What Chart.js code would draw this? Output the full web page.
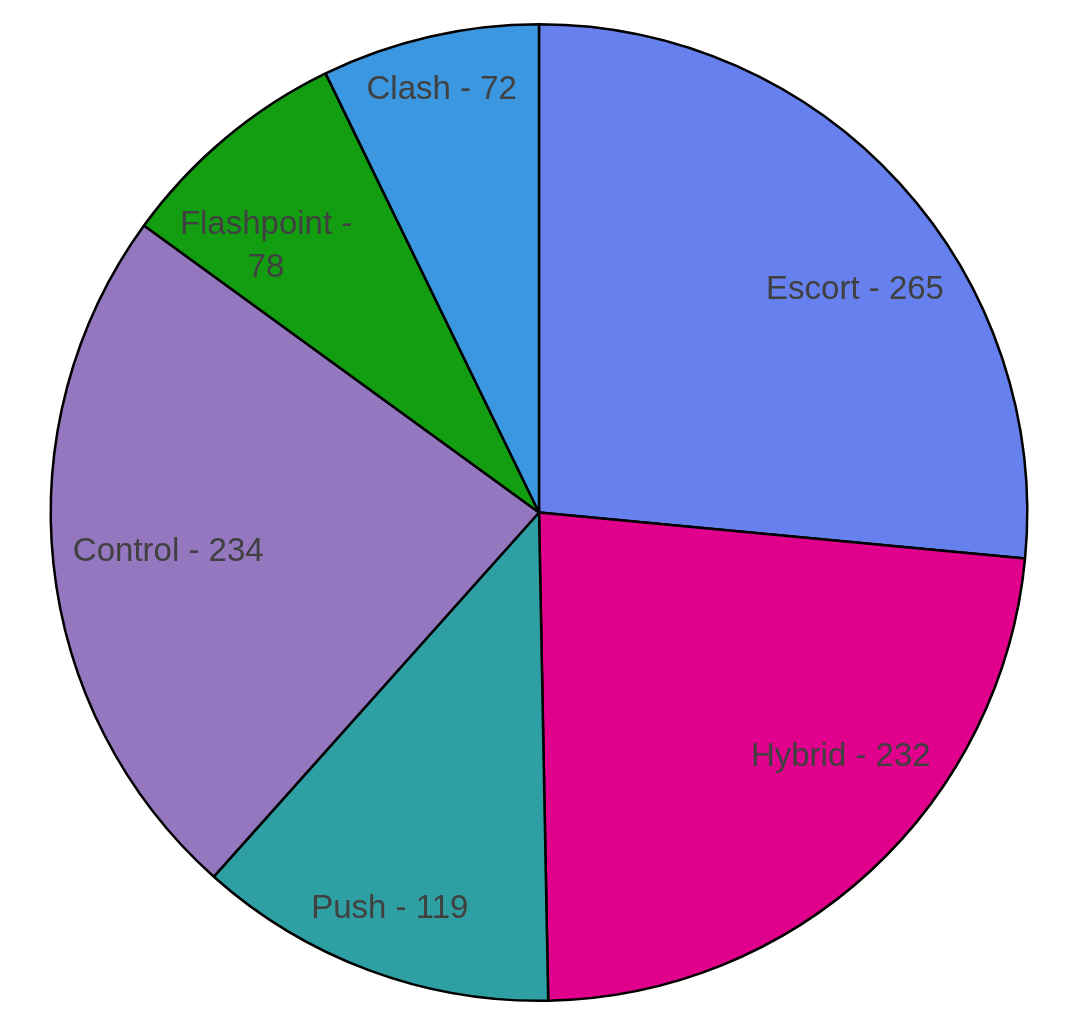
<!DOCTYPE html>
<html>
<head>
<meta charset="utf-8">
<script src="https://cdn.jsdelivr.net/npm/chart.js@4.4.0/dist/chart.umd.min.js"></script>
<style>
    html, body { margin: 0; padding: 0; background: #fff; }
    #wrap { width: 1080px; height: 1027px; }
</style>
</head>
<body>
<div id="wrap"><canvas id="myChart" width="1080" height="1027"></canvas></div>
<script>
// Data
var categories = ["Escort", "Hybrid", "Push", "Control", "Flashpoint", "Clash"];
var values = [265, 232, 119, 234, 78, 72];
var colors = ["#6680EE", "#E0008C", "#2EA0A4", "#9477BF", "#139E12", "#3B97DF"];

var labelFont = "33px 'Liberation Sans', Arial, sans-serif";
var lineHeight = 43;

// word wrap a label so it fits roughly in the slice
function wrapText(ctx, text, maxWidth) {
    if (ctx.measureText(text).width <= maxWidth) return [text];
    var words = text.split(" ");
    var lines = [];
    var cur = "";
    words.forEach(function (w) {
        var test = cur ? cur + " " + w : w;
        if (cur && ctx.measureText(test).width > maxWidth) {
            lines.push(cur);
            cur = w;
        } else {
            cur = test;
        }
    });
    if (cur) lines.push(cur);
    return lines;
}

// distance t along u so that |t*u + v| == R
function solveT(ux, uy, vx, vy, R) {
    var b = ux * vx + uy * vy;
    var c = vx * vx + vy * vy - R * R;
    return -b + Math.sqrt(b * b - c);
}

// labels drawn near the outer end of each slice (roughly Excel "best fit")
var sliceLabels = {
    id: "sliceLabels",
    afterDatasetsDraw: function (chart) {
        var ctx = chart.ctx;
        var meta = chart.getDatasetMeta(0);
        ctx.save();
        ctx.font = labelFont;
        ctx.fillStyle = "#404040";
        ctx.textAlign = "center";
        ctx.textBaseline = "middle";
        meta.data.forEach(function (arc, i) {
            var p = arc.getProps(["x", "y", "startAngle", "endAngle", "outerRadius"], true);
            var mid = (p.startAngle + p.endAngle) / 2;
            var ux = Math.cos(mid), uy = Math.sin(mid);
            var sx = ux < 0 ? -1 : 1, sy = uy < 0 ? -1 : 1;
            var text = categories[i] + " - " + values[i];
            var maxW = (p.endAngle - p.startAngle) * p.outerRadius * 0.8;
            var lines = wrapText(ctx, text, maxW);
            var w = Math.max.apply(null, lines.map(function (l) { return ctx.measureText(l).width; }));
            var h = 28 + (lines.length - 1) * lineHeight;
            var Rf = p.outerRadius - 19;

            // box centred on the mid ray, far corner on Rf
            var tc = solveT(ux, uy, sx * w / 2, sy * h / 2, Rf);
            var ax = ux * tc, ay = uy * tc;
            // near corner on the mid ray, far corner on Rf
            var tn = solveT(ux, uy, sx * w, sy * h, Rf);
            var bx = ux * tn + sx * w / 2, by = uy * tn + sy * h / 2;

            var k = Math.pow(Math.abs(Math.sin(2 * mid)), 8);
            var cx = p.x + ax + (bx - ax) * k;
            var cy = p.y + ay + (by - ay) * k;
            lines.forEach(function (l, n) {
                ctx.fillText(l, cx, cy - (lines.length - 1) * lineHeight / 2 + n * lineHeight);
            });
        });
        ctx.restore();
    }
};

var ctx = document.getElementById("myChart").getContext("2d");
var myChart = new Chart(ctx, {
    type: "pie",
    data: {
        labels: categories,
        datasets: [{
            data: values,
            backgroundColor: colors,
            borderColor: "#000000",
            borderWidth: 2.5
        }]
    },
    options: {
        responsive: false,
        animation: false,
        layout: { padding: { top: 23, bottom: 25, left: 0, right: 2 } },
        plugins: {
            legend: { display: false },
            tooltip: { enabled: false }
        }
    },
    plugins: [sliceLabels]
});
</script>
</body>
</html>
